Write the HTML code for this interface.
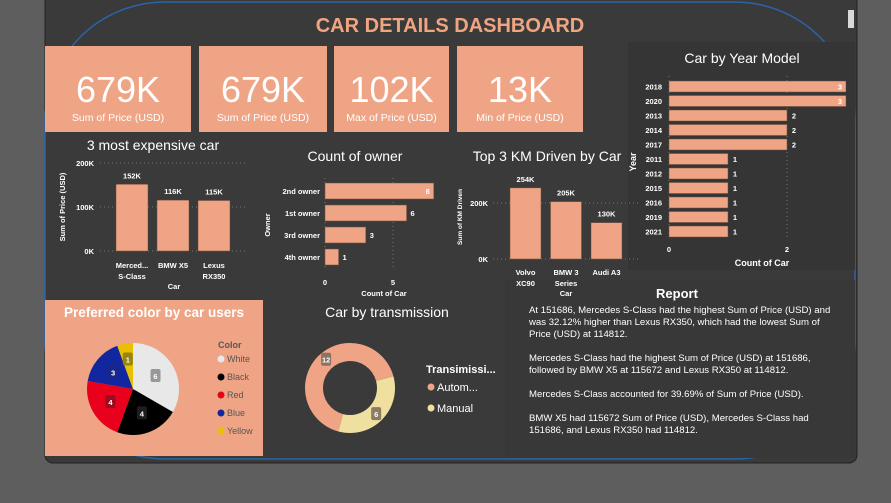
<!DOCTYPE html>
<html><head><meta charset="utf-8"><style>
body{margin:0;width:891px;height:503px;overflow:hidden;background:#5e5e5e;font-family:"Liberation Sans",sans-serif}
svg{display:block}
</style></head><body>
<svg id="s" width="891" height="503" xmlns="http://www.w3.org/2000/svg" font-family="Liberation Sans, sans-serif">
<rect x="45" y="-10" width="812" height="473" rx="8" fill="#3a3a3a" stroke="#222" stroke-width="1"/>
<rect x="45" y="2" width="810" height="457" rx="120" fill="#3a3a3a" stroke="#2a64a8" stroke-width="1.5"/>
<rect x="848" y="10" width="6" height="18" fill="#d8d8d8"/>
<text x="450" y="32" text-anchor="middle" font-size="20" font-weight="bold" fill="#f0a582">CAR DETAILS DASHBOARD</text>
<g id="kpis"></g>
<rect x="628" y="42" width="227" height="228" fill="#353535"/>
<rect x="505" y="280" width="350" height="178" fill="#383838"/>
<rect x="45" y="300" width="218" height="156" fill="#efa585"/>
<g id="charts"></g>
<text x="677" y="298" text-anchor="middle" font-size="13" font-weight="bold" fill="#fff">Report</text>
<g font-size="9.6" fill="#fff">
<text x="529" y="313">At 151686, Mercedes S-Class had the highest Sum of Price (USD) and</text>
<text x="529" y="325">was 32.12% higher than Lexus RX350, which had the lowest Sum of</text>
<text x="529" y="337">Price (USD) at 114812.</text>
<text x="529" y="361">Mercedes S-Class had the highest Sum of Price (USD) at 151686,</text>
<text x="529" y="373">followed by BMW X5 at 115672 and Lexus RX350 at 114812.</text>
<text x="529" y="397">Mercedes S-Class accounted for 39.69% of Sum of Price (USD).</text>
<text x="529" y="421">BMW X5 had 115672 Sum of Price (USD), Mercedes S-Class had</text>
<text x="529" y="433">151686, and Lexus RX350 had 114812.</text>
</g>
</svg>
<script>
const kpiValues=["679K","679K","102K","13K"];
const kpiLabels=["Sum of Price (USD)","Sum of Price (USD)","Max of Price (USD)","Min of Price (USD)"];
const expCars=[["Merced...","S-Class"],["BMW X5",""],["Lexus","RX350"]];
const expValues=[151686,115672,114812];
const ownerCats=["2nd owner","1st owner","3rd owner","4th owner"];
const ownerValues=[8,6,3,1];
const kmCars=[["Volvo","XC90"],["BMW 3","Series"],["Audi A3",""]];
const kmValues=[254000,205000,130000];
const years=["2018","2020","2013","2014","2017","2011","2012","2015","2016","2019","2021"];
const yearValues=[3,3,2,2,2,1,1,1,1,1,1];
const colorCats=["White","Black","Red","Blue","Yellow"];
const colorValues=[6,4,4,3,1];
const transCats=["Autom...","Manual"];
const transValues=[12,6];

const NS="http://www.w3.org/2000/svg";
const C="#efa585";
function el(tag,attrs,parent,txt){const e=document.createElementNS(NS,tag);for(const k in attrs)e.setAttribute(k,attrs[k]);if(txt!==undefined)e.textContent=txt;parent.appendChild(e);return e;}
const svg=document.getElementById('s');
const kg=document.getElementById('kpis');
const g=document.getElementById('charts');
const kx=[45,199,334,457],kw=[146,128,115,126];
kpiValues.forEach((v,i)=>{
  const r=el('rect',{x:kx[i],y:46,width:kw[i],height:86,fill:C},kg);
  
  
  const t=el('text',{x:kx[i]+kw[i]/2,y:102,'text-anchor':'middle','font-size':36,fill:'#fff'},kg,v);
  
  
  const l=el('text',{x:kx[i]+kw[i]/2,y:121,'text-anchor':'middle','font-size':10.5,fill:'#fff'},kg,kpiLabels[i]);
  
  
});
function title(x,y,t,n){const e=el('text',{x:x,y:y,'text-anchor':'middle','font-size':14,fill:'#fff'},g,t);}
function small(x,y,t,anchor,n,extra){const e=el('text',Object.assign({x:x,y:y,'text-anchor':anchor||'middle','font-size':7.5,'font-weight':'bold',fill:'#fff'},extra||{}),g,t);return e;}
function grid(x1,x2,y1,y2){const e=el('line',{x1:x1,x2:x2,y1:y1,y2:y2,stroke:'#777','stroke-dasharray':'1,3'},g);}
function fmtK(v){return Math.round(v/1000)+'K';}

title(153,150,"3 most expensive car","expensive-title");
const ey=v=>251-v/200000*88;
[0,100000,200000].forEach(t=>{grid(100,245,ey(t),ey(t));small(94,ey(t)+3,fmtK(t),'end','y-tick');});
expValues.forEach((v,i)=>{const x=116+i*41;
  const b=el('rect',{x:x,y:ey(v),width:32,height:251-ey(v),fill:C,stroke:'#6a4a3a','stroke-width':0.5},g);
  
  
  small(x+16,ey(v)-6,fmtK(v),'middle','bar-value');
  small(x+16,268,expCars[i][0],'middle','x-label');small(x+16,279,expCars[i][1],'middle','x-label');});
small(174,289,"Car",'middle','x-axis-title');
small(0,0,"Sum of Price (USD)",'middle','y-axis-title',{transform:'translate(65,207) rotate(-90)'});

title(355,161,"Count of owner","owner-title");
const ox=v=>325+v*13.6;
[0,5].forEach(t=>{grid(ox(t),ox(t),178,270);small(ox(t),285,String(t),'middle','x-tick');});
ownerValues.forEach((v,i)=>{const y=183+i*22;
  const b=el('rect',{x:325,y:y,width:ox(v)-325,height:16,fill:C,stroke:'#6a4a3a','stroke-width':0.5},g);
  
  
  small(320,y+11,ownerCats[i],'end','y-label');
  if(v>=8)small(ox(v)-4,y+11,String(v),'end','bar-value');else small(ox(v)+6,y+11,String(v),'middle','bar-value');});
small(384,296,"Count of Car",'middle','x-axis-title');
small(0,0,"Owner",'middle','y-axis-title',{transform:'translate(270,225) rotate(-90)'});

title(547,161,"Top 3 KM Driven by Car","km-title");
const ky=v=>259-v/200000*56;
[0,200000].forEach(t=>{grid(493,640,ky(t),ky(t));small(488,ky(t)+3,fmtK(t),'end','y-tick');});
kmValues.forEach((v,i)=>{const x=510+i*40.5;
  const b=el('rect',{x:x,y:ky(v),width:31,height:259-ky(v),fill:C,stroke:'#6a4a3a','stroke-width':0.5},g);
  
  
  small(x+15.5,ky(v)-6,fmtK(v),'middle','bar-value');
  small(x+15.5,275,kmCars[i][0],'middle','x-label');small(x+15.5,286,kmCars[i][1],'middle','x-label');});
small(566,296,"Car",'middle','x-axis-title');
small(0,0,"Sum of KM Driven",'middle','y-axis-title',{transform:'translate(462,217) rotate(-90)',"font-size":6.5});

title(742,63,"Car by Year Model","year-title");
const yx=v=>669+v*59;
[0,2].forEach(t=>{grid(yx(t),yx(t),76,240);small(yx(t),252,String(t),'middle','x-tick');});
yearValues.forEach((v,i)=>{const y=81+i*14.5;
  const b=el('rect',{x:669,y:y,width:yx(v)-669,height:11,fill:C,stroke:'#6a4a3a','stroke-width':0.5},g);
  
  
  small(662,y+8.5,years[i],'end','y-label');
  if(v>=3)small(yx(v)-4,y+8.5,String(v),'end','bar-value');else small(yx(v)+7,y+8.5,String(v),'middle','bar-value');});
small(762,266,"Count of Car",'middle','x-axis-title',{"font-size":9});
small(0,0,"Year",'middle','y-axis-title',{transform:'translate(636,162) rotate(-90)',"font-size":9});

const t1=el('text',{x:154,y:317,'text-anchor':'middle','font-size':13.5,'font-weight':'bold',fill:'#fff'},g,"Preferred color by car users");


const pieColors=["#e8e8e8","#000000","#e8001c","#1226a0","#e8c000"];
const labBg=["#8a8a8a","#222","#8a1020","#1a2a80","#8a7a10"];
function arcPath(cx,cy,r,r0,a0,a1){const large=(a1-a0)>Math.PI?1:0;
  const [x0,y0]=[cx+r*Math.sin(a0),cy-r*Math.cos(a0)],[x1,y1]=[cx+r*Math.sin(a1),cy-r*Math.cos(a1)];
  if(r0===0)return `M${cx},${cy}L${x0},${y0}A${r},${r} 0 ${large} 1 ${x1},${y1}Z`;
  const [x2,y2]=[cx+r0*Math.sin(a1),cy-r0*Math.cos(a1)],[x3,y3]=[cx+r0*Math.sin(a0),cy-r0*Math.cos(a0)];
  return `M${x0},${y0}A${r},${r} 0 ${large} 1 ${x1},${y1}L${x2},${y2}A${r0},${r0} 0 ${large} 0 ${x3},${y3}Z`;}
function label(x,y,t,bg){const r=el('rect',{x:x-5,y:y-7,width:10,height:13,rx:2,fill:bg,opacity:0.85},g);small(x,y+3,t,'middle','slice-label');}
let tot=colorValues.reduce((a,b)=>a+b,0),a=0;
const pcx=133,pcy=389;
colorValues.forEach((v,i)=>{const a1=a+v/tot*2*Math.PI;
  const p=el('path',{d:arcPath(pcx,pcy,46,0,a,a1),fill:pieColors[i]},g);
  
  
  const m=(a+a1)/2,rr=v<2?30:26;label(pcx+rr*Math.sin(m),pcy-rr*Math.cos(m),String(v),labBg[i]);a=a1;});
const lt=el('text',{x:218,y:348,'font-size':9,'font-weight':'bold',fill:'#555'},g,"Color");


colorCats.forEach((c,i)=>{const y=359+i*18;
  const d=el('circle',{cx:221,cy:y,r:3.5,fill:pieColors[i]},g);
  
  
  const t=el('text',{x:227,y:y+3,'font-size':9,fill:'#555'},g,c);
  
  });

title(387,317,"Car by transmission","transmission-title");
const tc=["#efa585","#efe0a0"];
const dcx=350,dcy=388;
let tt=transValues.reduce((a,b)=>a+b,0),b0=195/180*Math.PI;
transValues.forEach((v,i)=>{const b1=b0+v/tt*2*Math.PI;
  const p=el('path',{d:arcPath(dcx,dcy,45,27,b0,b1),fill:tc[i]},g);
  
  
  const m=b0+(b1-b0)*(i?0.5:0.52);label(dcx+37*Math.sin(m),dcy-37*Math.cos(m),String(v),'#7a6a5a');b0=b1;});
const dt=el('text',{x:426,y:373,'font-size':11,'font-weight':'bold',fill:'#fff'},g,"Transimissi...");


transCats.forEach((c,i)=>{const y=387+i*21;
  const d=el('circle',{cx:431,cy:y,r:3.5,fill:tc[i]},g);
  
  
  const t=el('text',{x:437,y:y+4,'font-size':11,fill:'#fff'},g,c);
  
  });
</script>
</body></html>
